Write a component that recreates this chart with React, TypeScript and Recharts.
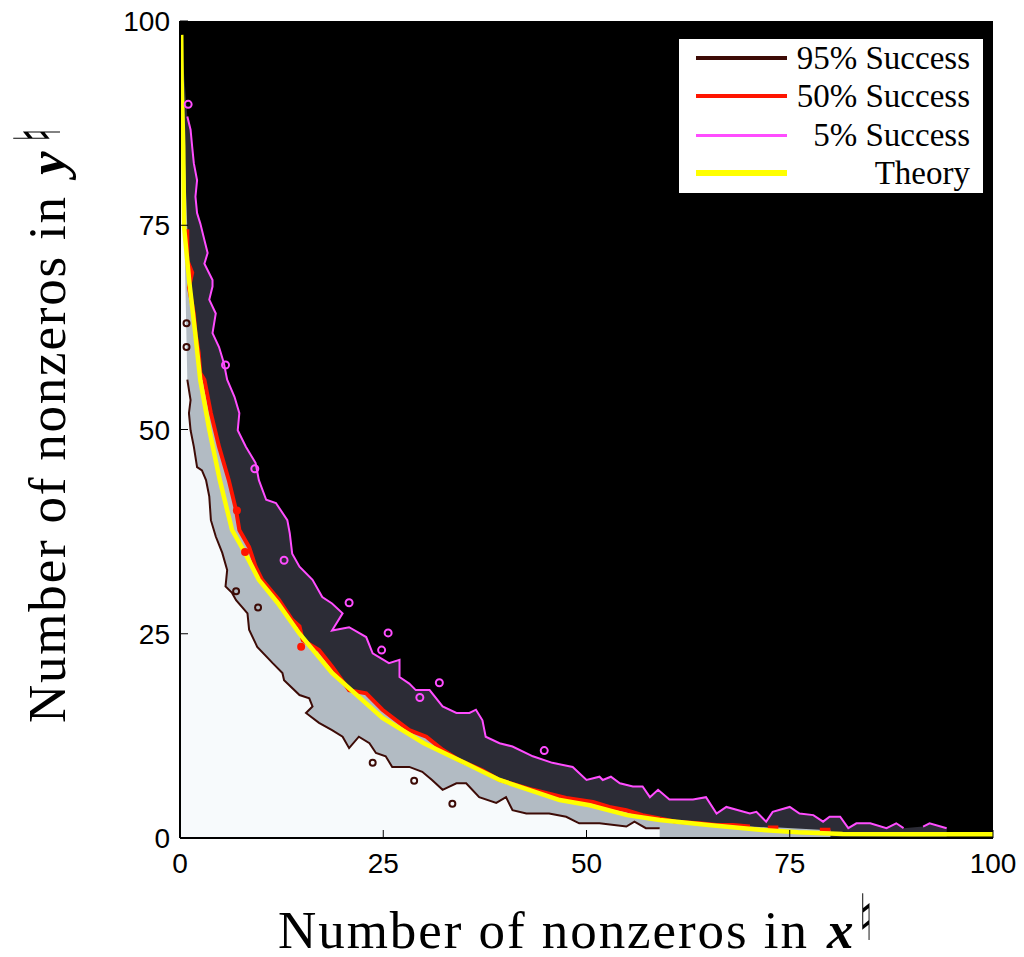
import React from 'react';
import { ComposedChart, Area, Line, Scatter, XAxis, YAxis, CartesianGrid, Legend } from 'recharts';

type Pt = [number, number | null];

const xTicks = [0, 25, 50, 75, 100];
const yTicks = [0, 25, 50, 75, 100];

// Theoretical phase transition curve
const theory: Pt[] = [
  [0.15, 98.3], [0.2, 92.8], [0.4, 84.6], [0.5, 74.8], [1.15, 68], [1.85, 62], [2.5, 56], [3.6, 50],
  [4.9, 43.8], [6.4, 37.7], [8.0, 34.9], [9.7, 31.6], [12.0, 28.8], [14.7, 25], [18.7, 20.2],
  [24.9, 14.7], [30.0, 11.6], [35.0, 9.2], [39.3, 7.1], [46.7, 4.65], [50.4, 4.0], [55.0, 2.8],
  [59.0, 2.2], [65.0, 1.6], [71.3, 1.0], [76.0, 0.7], [81.5, 0.5], [90.0, 0.45], [100, 0.45],
];

// 50% success contour
const success50: Pt[] = [
  [0.9, 74.5], [0.9, 73.4], [0.9, 70.7], [1.5, 69.2], [1.1, 67.4], [1.7, 64.2], [1.9, 61.8],
  [2.3, 59.4], [2.5, 56.9], [3.0, 56.1], [3.8, 52.0], [4.8, 47.9], [6.0, 43.8], [6.9, 40.1],
  [7.3, 37.7], [8.5, 35.6], [9.3, 33.2], [10.1, 31.6], [12.2, 29.1], [13.8, 26.7], [14.7, 25.9],
  [15.1, 24.2], [17.1, 23.0], [18.7, 21.0], [20.8, 18.1], [22.9, 17.7], [24.9, 15.7], [26.6, 14.4],
  [28.2, 13.2], [30.3, 12.4], [32.3, 10.8], [34.4, 9.5], [37.2, 8.3], [39.3, 7.1], [43.4, 5.9],
  [47.5, 4.9], [50.8, 4.4], [52.8, 3.8], [54.9, 3.4], [56.9, 2.8], [59.0, 2.4], [61.0, 2.0],
  [63.9, 1.8], [66.0, 1.6], [68.0, 1.6], [70.1, 1.4], [71.0, null], [72.3, 1.3], [73.6, 1.3],
  [75.0, null], [78.7, 1.0], [80.0, 1.0],
];

// 95% success contour
const success95: Pt[] = [
  [0.9, 56.1], [1.3, 53.6], [1.1, 52.0], [1.3, 49.9], [1.7, 47.9], [2.1, 45.4], [2.7, 45.0],
  [3.2, 43.8], [3.6, 41.8], [3.8, 38.9], [4.4, 36.9], [5.2, 34.9], [5.8, 32.8], [5.6, 30.8],
  [6.4, 30.0], [6.9, 29.1], [8.3, 27.5], [8.5, 25.5], [9.5, 23.4], [11.4, 21.4], [12.6, 20.2],
  [12.8, 19.3], [14.7, 17.5], [15.9, 17.1], [16.3, 16.1], [15.5, 15.3], [17.1, 14.1], [18.7, 13.2],
  [20.0, 12.4], [20.8, 11.0], [22.0, 12.4], [23.3, 11.6], [24.1, 10.4], [25.3, 10.0], [26.1, 8.7],
  [28.2, 8.7], [29.8, 8.1], [31.0, 7.1], [32.3, 5.9], [34.0, 6.7], [35.2, 6.7], [36.8, 5.0],
  [38.9, 4.3], [40.1, 5.0], [40.9, 3.4], [42.6, 3.0], [45.4, 3.0], [47.5, 2.6], [49.1, 1.8],
  [51.6, 1.8], [54.9, 1.4], [55.9, 2.0], [57.3, 1.2], [59.0, 1.2],
];

// 5% success contour
const success5: Pt[] = [
  [0.9, 88.3], [1.3, 86.7], [1.5, 84.6], [1.7, 82.6], [2.1, 80.5], [1.9, 78.5], [2.1, 76.5],
  [2.5, 75.2], [3.0, 73.2], [3.4, 71.6], [3.0, 70.3], [4.0, 68.3], [4.0, 67.5], [3.6, 65.9],
  [4.4, 64.2], [4.0, 61.8], [4.8, 60.1], [5.4, 58.1], [5.8, 56.1], [6.7, 54.0], [7.3, 52.0],
  [7.1, 49.9], [8.1, 47.9], [9.3, 45.9], [9.7, 43.8], [10.6, 41.4], [11.8, 41.0], [13.2, 38.9],
  [13.5, 37.3], [13.8, 34.8], [14.7, 33.2], [16.3, 31.6], [17.5, 29.5], [18.7, 28.7], [20.0, 27.5],
  [18.7, 25.4], [20.8, 25.8], [22.9, 24.6], [23.7, 22.6], [25.7, 21.4], [27.0, 21.8], [27.0, 19.7],
  [28.2, 18.9], [29.0, 18.1], [30.7, 18.1], [32.3, 16.1], [34.0, 15.3], [35.6, 15.3], [36.4, 15.7],
  [37.2, 14.4], [37.6, 12.4], [39.3, 11.6], [40.9, 11.2], [43.4, 10.0], [45.8, 9.2], [48.3, 8.7],
  [50.0, 7.1], [51.6, 7.5], [52.0, 7.1], [53.0, 7.5], [54.1, 6.7], [55.7, 6.3], [56.9, 6.3],
  [57.8, 5.0], [58.8, 5.9], [60.2, 4.7], [63.1, 4.7], [64.7, 5.0], [66.0, 3.0], [67.2, 3.8],
  [70.1, 3.0], [70.9, 3.2], [72.1, 2.0], [72.9, 3.2], [75.0, 3.8], [76.2, 3.0], [77.9, 2.8],
  [79.1, 2.0], [79.9, 2.6], [81.2, 2.6], [82.2, 1.2], [83.2, 1.8], [84.9, 1.8], [86.9, 1.2],
  [88.1, 1.8], [89.0, 1.2], [90.0, null], [91.4, 1.4], [92.2, 1.8], [94.3, 1.2],
];

// small closed contour islands
const islands5: Pt[] = [
  [1.0, 89.8], [5.6, 57.9], [9.2, 45.2], [12.8, 34.0], [20.8, 28.8], [25.6, 25.1],
  [24.8, 23.0], [31.9, 19.0], [29.5, 17.2], [44.8, 10.7],
];
const islands95: Pt[] = [
  [0.8, 63.0], [0.8, 60.1], [6.9, 30.2], [9.6, 28.2], [23.7, 9.2], [28.8, 7.0], [33.5, 4.2],
];
const blobs50: Pt[] = [[7.0, 40.1], [8.0, 35.0], [14.9, 23.4]];

// left-most column of the map is a success column up to the top
const leftEdge: Pt = [0, 100];

const legendLabels = ['95% Success', '50% Success', '5% Success', 'Theory'];
const legendColors = ['#3d0b06', '#ff1500', '#ff4dff', '#ffff00'];
const legendWidths = [3.5, 4.5, 3, 5.5];

const lineRows = (pts: Pt[]) => pts.map(([x, y]) => ({ x, y }));
const areaRows = (pts: Pt[]) => [leftEdge, ...pts].filter(([, y]) => y !== null).map(([x, y]) => ({ x, y }));

const SERIF = '"Liberation Serif", "Times New Roman", serif';
const SANS = '"Liberation Sans", Arial, sans-serif';
const SYM = '"DejaVu Sans", sans-serif';

const XTick = (props: any) => {
  const { x, y, payload } = props;
  return (
    <g>
      <line x1={x} y1={y} x2={x} y2={y - 8} stroke="#000" strokeWidth={1} />
      <text x={x} y={y + 34.5} textAnchor="middle" fontFamily={SANS} fontSize={28} fill="#000">
        {payload.value}
      </text>
    </g>
  );
};

const YTick = (props: any) => {
  const { x, y, payload } = props;
  return (
    <g>
      <line x1={x} y1={y} x2={x + 8} y2={y} stroke="#000" strokeWidth={1} />
      <text x={x - 10} y={y + 10} textAnchor="end" fontFamily={SANS} fontSize={28} fill="#000">
        {payload.value}
      </text>
    </g>
  );
};

const rowCenters = [19, 57, 96, 134];

const renderLegend = () => (
  <div
    style={{
      width: 306,
      height: 156,
      boxSizing: 'border-box',
      border: '1.5px solid #000',
      background: '#fff',
      position: 'relative',
    }}
  >
    {legendLabels.map((lab, i) => (
      <React.Fragment key={lab}>
        <div
          style={{
            position: 'absolute',
            left: 17,
            width: 91,
            top: rowCenters[i] - legendWidths[i] / 2,
            height: legendWidths[i],
            background: legendColors[i],
          }}
        />
        <div
          style={{
            position: 'absolute',
            right: 13,
            top: rowCenters[i] - 16.5,
            height: 32,
            lineHeight: '32px',
            fontFamily: SERIF,
            fontSize: 33,
            color: '#000',
            whiteSpace: 'nowrap',
          }}
        >
          {lab}
        </div>
      </React.Fragment>
    ))}
  </div>
);

export default function App() {
  return (
    <div style={{ position: 'relative', width: 1024, height: 953, margin: '-8px 0 0 -8px' }}>
      <ComposedChart width={1024} height={953} margin={{ top: 21, right: 31, bottom: 114, left: 179 }}>
        <CartesianGrid horizontal={false} vertical={false} fill="#000" fillOpacity={1} />
        <Area data={areaRows(success5)} dataKey="y" type="linear" stroke="none" fill="#2c2c36" fillOpacity={1} isAnimationActive={false} />
        <Area data={areaRows(success50)} dataKey="y" type="linear" stroke="none" fill="#b2bbc3" fillOpacity={1} isAnimationActive={false} />
        <Area data={areaRows(success95)} dataKey="y" type="linear" stroke="none" fill="#f7fafc" fillOpacity={1} isAnimationActive={false} />
        <Line data={lineRows(success95)} dataKey="y" type="linear" stroke={legendColors[0]} strokeWidth={2} dot={false} connectNulls={false} isAnimationActive={false} />
        <Line data={lineRows(success5)} dataKey="y" type="linear" stroke={legendColors[2]} strokeWidth={2} dot={false} connectNulls={false} isAnimationActive={false} />
        <Scatter
          data={lineRows(islands5)}
          isAnimationActive={false}
          shape={(p: any) => <circle cx={p.cx} cy={p.cy} r={3.5} fill="none" stroke={legendColors[2]} strokeWidth={2} />}
        />
        <Scatter
          data={lineRows(islands95)}
          isAnimationActive={false}
          shape={(p: any) => <circle cx={p.cx} cy={p.cy} r={3} fill="none" stroke={legendColors[0]} strokeWidth={2} />}
        />
        <Line data={lineRows(success50)} dataKey="y" type="linear" stroke={legendColors[1]} strokeWidth={4} dot={false} connectNulls={false} isAnimationActive={false} />
        <Scatter
          data={lineRows(blobs50)}
          isAnimationActive={false}
          shape={(p: any) => <circle cx={p.cx} cy={p.cy} r={4} fill={legendColors[1]} />}
        />
        <Line data={lineRows(theory)} dataKey="y" type="linear" stroke={legendColors[3]} strokeWidth={4.5} dot={false} isAnimationActive={false} />
        <XAxis
          type="number"
          dataKey="x"
          domain={[0, 100]}
          ticks={xTicks}
          interval={0}
          allowDataOverflow
          height={1}
          tickSize={0}
          tickMargin={0}
          tickLine={false}
          tick={<XTick />}
          axisLine={{ stroke: '#000', strokeWidth: 2 }}
        />
        <YAxis
          type="number"
          dataKey="y"
          domain={[0, 100]}
          ticks={yTicks}
          interval={0}
          allowDataOverflow
          width={1}
          tickSize={0}
          tickMargin={0}
          tickLine={false}
          tick={<YTick />}
          axisLine={{ stroke: '#000', strokeWidth: 2 }}
        />
        <Legend
          layout="horizontal"
          verticalAlign="middle"
          align="center"
          content={renderLegend}
          wrapperStyle={{ left: 678, top: 38, width: 306, height: 156 }}
        />
      </ComposedChart>
      <svg
        width={1024}
        height={953}
        style={{ position: 'absolute', left: 0, top: 0, pointerEvents: 'none', overflow: 'visible' }}
      >
        <text x={278} y={948} fontFamily={SERIF} fontSize={53} fill="#000" textLength={529} lengthAdjust="spacing">
          Number of nonzeros in
        </text>
        <text x={827} y={948} fontFamily={SERIF} fontSize={53} fontWeight="bold" fontStyle="italic" fill="#000">
          x
        </text>
        <text x={859} y={940} fontFamily={SYM} fontSize={64} fill="#000" transform="translate(859 940) scale(0.6 1) translate(-859 -940)">
          ♮
        </text>
        <g transform="rotate(-90 65 723)">
          <text x={65} y={723} fontFamily={SERIF} fontSize={53} fill="#000" textLength={526} lengthAdjust="spacing">
            Number of nonzeros in
          </text>
          <text x={613} y={723} fontFamily={SERIF} fontSize={53} fontWeight="bold" fontStyle="italic" fill="#000">
            y
          </text>
          <text x={646} y={718} fontFamily={SYM} fontSize={64} fill="#000" transform="translate(646 718) scale(0.6 1) translate(-646 -718)">
            ♮
          </text>
        </g>
      </svg>
    </div>
  );
}
